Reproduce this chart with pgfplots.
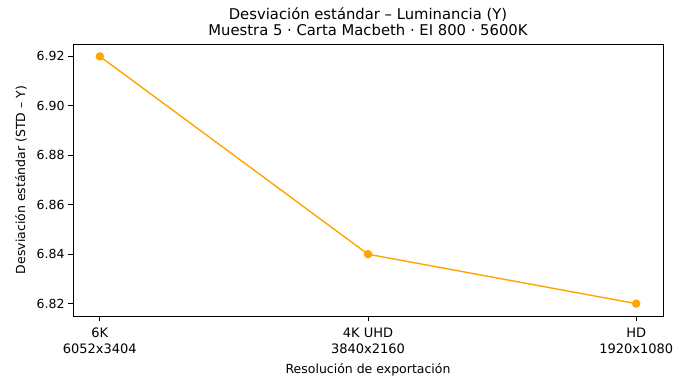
\documentclass[border=0pt]{standalone}
\usepackage{pgfplots}
\pgfplotsset{compat=1.18}
\usepackage{fontspec}
\setmainfont{DejaVu Sans}
\definecolor{mplorange}{HTML}{FFA500}
\begin{document}
\begin{tikzpicture}
\path[use as bounding box] (-73pt,-59pt) rectangle (601pt,316pt);
\begin{axis}[
  at={(0,0)}, anchor=south west,
  scale only axis, width=590pt, height=272pt,
  xmin=-0.1, xmax=2.1, ymin=6.815, ymax=6.925,
  xtick={0,1,2},
  xticklabels={{6K\\6052x3404},{4K UHD\\3840x2160},{HD\\1920x1080}},
  xticklabel style={align=center, font=\fontsize{13pt}{16pt}\selectfont, yshift=-3pt},
  ytick={6.82,6.84,6.86,6.88,6.90,6.92},
  yticklabel style={font=\fontsize{12.5pt}{15pt}\selectfont, /pgf/number format/fixed, /pgf/number format/fixed zerofill, /pgf/number format/precision=2},
  /pgf/number format/assume math mode=true,
  tick align=outside, tick pos=left, major tick length=5pt,
  tick style={black, line width=0.8pt},
  axis line style={line width=0.8pt},
  xlabel={Resolución de exportación},
  ylabel={Desviación estándar (STD – Y)},
  label style={font=\fontsize{12.5pt}{15pt}\selectfont},
  title={Desviación estándar – Luminancia (Y)\\Muestra 5 · Carta Macbeth · EI 800 · 5600K},
  title style={align=center, font=\fontsize{14.8pt}{15.5pt}\selectfont, yshift=-1pt},
  xlabel style={yshift=-3pt},
  ylabel style={yshift=3pt},
]
\addplot[mplorange, line width=1.4pt, mark=*, mark size=3.5pt, mark options={fill=mplorange, draw=mplorange}]
coordinates {(0,6.92) (1,6.84) (2,6.82)};
\end{axis}
\end{tikzpicture}
\end{document}
